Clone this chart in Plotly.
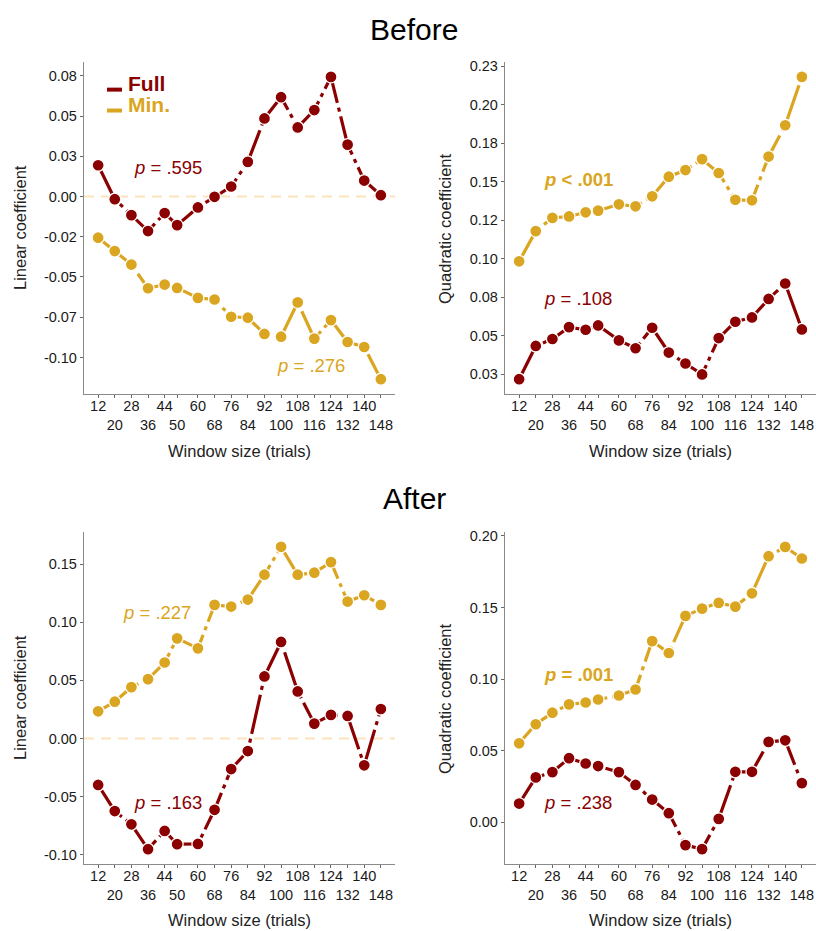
import plotly.graph_objects as go

# ---------------- data ----------------
window = [12, 20, 28, 36, 44, 50, 60, 68, 76, 84, 92, 100, 108, 116, 124, 132, 140, 148]
tick_text = [str(v) if i % 2 == 0 else "<br>" + str(v) for i, v in enumerate(window)]

before_linear_full = [0.0194, -0.0017, -0.0116, -0.0215, -0.0103, -0.0178, -0.0068, -0.0002, 0.0062,
                      0.0215, 0.0485, 0.0617, 0.0429, 0.0537, 0.0743, 0.0322, 0.0099, 0.0008]
before_linear_min = [-0.0256, -0.0339, -0.0423, -0.0570, -0.0547, -0.0568, -0.0630, -0.0640, -0.0747,
                     -0.0753, -0.0854, -0.0871, -0.0658, -0.0883, -0.0768, -0.0904, -0.0935, -0.1135]
before_quad_full = [0.0218, 0.0434, 0.0479, 0.0556, 0.0539, 0.0567, 0.0470, 0.0419, 0.0552,
                    0.0391, 0.0320, 0.0249, 0.0485, 0.0591, 0.0619, 0.0739, 0.0839, 0.0541]
before_quad_min = [0.0983, 0.1179, 0.1265, 0.1274, 0.1301, 0.1312, 0.1353, 0.1340, 0.1405,
                   0.1532, 0.1575, 0.1646, 0.1556, 0.1382, 0.1379, 0.1663, 0.1866, 0.2180]
after_linear_full = [-0.0400, -0.0625, -0.0739, -0.0953, -0.0796, -0.0910, -0.0908, -0.0614, -0.0263,
                     -0.0108, 0.0534, 0.0831, 0.0405, 0.0128, 0.0203, 0.0194, -0.0231, 0.0254]
after_linear_min = [0.0234, 0.0317, 0.0442, 0.0511, 0.0654, 0.0862, 0.0776, 0.1150, 0.1136,
                    0.1196, 0.1410, 0.1650, 0.1410, 0.1427, 0.1518, 0.1179, 0.1233, 0.1150]
after_quad_full = [0.0130, 0.0313, 0.0350, 0.0447, 0.0410, 0.0392, 0.0350, 0.0260, 0.0158,
                   0.0063, -0.0160, -0.0188, 0.0023, 0.0352, 0.0352, 0.0561, 0.0572, 0.0273]
after_quad_min = [0.0551, 0.0684, 0.0765, 0.0823, 0.0836, 0.0857, 0.0885, 0.0927, 0.1265,
                  0.1182, 0.1441, 0.1492, 0.1532, 0.1506, 0.1599, 0.1858, 0.1923, 0.1842]

p_labels = {
    "bl_full": "<i>p</i> = .595", "bl_min": "<i>p</i> = .276",
    "bq_full": "<i>p</i> = .108", "bq_min": "<b><i>p</i> &lt; .001</b>",
    "al_full": "<i>p</i> = .163", "al_min": "<i>p</i> = .227",
    "aq_full": "<i>p</i> = .238", "aq_min": "<b><i>p</i> = .001</b>",
}

ticks_bl = [-0.1, -0.075, -0.05, -0.025, 0.0, 0.025, 0.05, 0.075]
ticks_bl_text = ["-0.10", "-0.07", "-0.05", "-0.02", "0.00", "0.03", "0.05", "0.08"]
ticks_bq = [0.025, 0.05, 0.075, 0.1, 0.125, 0.15, 0.175, 0.2, 0.225]
ticks_bq_text = ["0.03", "0.05", "0.08", "0.10", "0.12", "0.15", "0.18", "0.20", "0.23"]
ticks_al = [-0.1, -0.05, 0.0, 0.05, 0.1, 0.15]
ticks_al_text = ["-0.10", "-0.05", "0.00", "0.05", "0.10", "0.15"]
ticks_aq = [0.0, 0.05, 0.1, 0.15, 0.2]
ticks_aq_text = ["0.00", "0.05", "0.10", "0.15", "0.20"]

# ---------------- style ----------------
RED = "#8B0000"
GOLD = "#DAA520"
FONT = "Liberation Sans"
W, H = 816, 931
DASH = "40px,5px,4px,5px"

fig = go.Figure()

panels = [
    ("x", "y", before_linear_full, before_linear_min),
    ("x2", "y2", before_quad_full, before_quad_min),
    ("x3", "y3", after_linear_full, after_linear_min),
    ("x4", "y4", after_quad_full, after_quad_min),
]
for xa, ya, full, mn in panels:
    for vals, col in ((full, RED), (mn, GOLD)):
        fig.add_trace(go.Scatter(
            x=window, y=vals, xaxis=xa, yaxis=ya, mode="lines+markers",
            line=dict(color=col, width=3.2, dash=DASH),
            marker=dict(color=col, size=12, line=dict(color="white", width=1.3)),
            showlegend=False, hoverinfo="skip"))

def px_x(p):
    return p / W

def px_y(p):
    return 1 - p / H

xdom_l = [px_x(84), px_x(395)]
xdom_r = [px_x(505), 1.0]
ydom_t = [px_y(392), px_y(58)]
ydom_b = [px_y(864), px_y(530)]

axis_common = dict(showline=True, linecolor="#8a8a8a", linewidth=1.3, ticks="outside",
                   ticklen=3, tickwidth=1, tickcolor="#666666", showgrid=False, zeroline=False,
                   tickfont=dict(family=FONT, size=14.5, color="#1a1a1a"))

def xax(dom, anchor):
    return dict(domain=dom, anchor=anchor, range=[5.2, 154.8], tickmode="array",
                tickvals=window, ticktext=tick_text, tickangle=0, ticklabelstandoff=-5,
                **axis_common)

def yax(dom, anchor, rng, tv, tt):
    return dict(domain=dom, anchor=anchor, range=rng, tickmode="array",
                tickvals=tv, ticktext=tt, **axis_common)

fig.update_layout(
    width=W, height=H, margin=dict(l=0, r=0, t=0, b=0),
    paper_bgcolor="white", plot_bgcolor="white",
    font=dict(family=FONT),
    xaxis=xax(xdom_l, "y"), yaxis=yax(ydom_t, "x", [-0.1229, 0.0837], ticks_bl, ticks_bl_text),
    xaxis2=xax(xdom_r, "y2"), yaxis2=yax(ydom_t, "x2", [0.012, 0.2278], ticks_bq, ticks_bq_text),
    xaxis3=xax(xdom_l, "y3"), yaxis3=yax(ydom_b, "x3", [-0.1083, 0.178], ticks_al, ticks_al_text),
    xaxis4=xax(xdom_r, "y4"), yaxis4=yax(ydom_b, "x4", [-0.0294, 0.2029], ticks_aq, ticks_aq_text),
)

# zero reference lines in linear panels
for xa, ya in (("x", "y"), ("x3", "y3")):
    fig.add_shape(type="line", xref=f"{xa} domain", yref=ya, x0=0, x1=1, y0=0, y1=0,
                  line=dict(color="#FBE3BD", width=2, dash="10px,7px"), layer="below")

def centered(text, cx, cy, size, color, **kw):
    d = dict(text=text, x=px_x(cx), y=px_y(cy), xref="paper", yref="paper",
             xanchor="center", yanchor="middle", showarrow=False,
             font=dict(size=size, color=color, family=FONT))
    d.update(kw)
    return d

ann = []
# titles
ann.append(centered("Before", 414, 26, 30, "black"))
ann.append(centered("After", 414, 497, 30, "black"))
# axis titles
for cx, cy in ((239, 449), (660, 449), (239, 920), (660, 920)):
    ann.append(centered("Window size (trials)", cx, cy, 16.5, "#222"))
for cx, cy, t in ((20, 225, "Linear coefficient"), (445, 225, "Quadratic coefficient"),
                  (20, 697, "Linear coefficient"), (445, 697, "Quadratic coefficient")):
    ann.append(centered(t, cx, cy, 16.5, "#222", textangle=-90))
# p-value labels
p_pos = [
    ("x", "y", 45.7, 0.018, "bl_full", RED), ("x", "y", 114.5, -0.1049, "bl_min", GOLD),
    ("x2", "y2", 40.4, 0.0742, "bq_full", RED), ("x2", "y2", 40.4, 0.1517, "bq_min", GOLD),
    ("x3", "y3", 45.7, -0.0554, "al_full", RED), ("x3", "y3", 40.5, 0.1082, "al_min", GOLD),
    ("x4", "y4", 40.4, 0.0137, "aq_full", RED), ("x4", "y4", 40.4, 0.1033, "aq_min", GOLD),
]
for xa, ya, xv, yv, key, col in p_pos:
    ann.append(dict(text=p_labels[key], x=xv, y=yv, xref=xa, yref=ya, showarrow=False,
                    xanchor="center", yanchor="middle",
                    font=dict(size=18.5, color=col, family=FONT)))
# legend
for label, col, cy in (("Full", RED, 80), ("Min.", GOLD, 101)):
    ann.append(dict(text=f"<b>{label}</b>", x=px_x(126), y=px_y(cy), xref="paper", yref="paper",
                    xanchor="left", yanchor="middle", showarrow=False,
                    font=dict(size=21, color=col, family=FONT)))
for col, y0 in ((RED, 84), (GOLD, 105)):
    fig.add_shape(type="rect", xref="paper", yref="paper", x0=px_x(107), x1=px_x(122),
                  y0=px_y(y0 + 4), y1=px_y(y0), fillcolor=col, line=dict(width=0))

fig.update_layout(annotations=ann)
fig.write_html("out.html", config={"displayModeBar": False},
               post_script="document.body.style.margin='0px';")
